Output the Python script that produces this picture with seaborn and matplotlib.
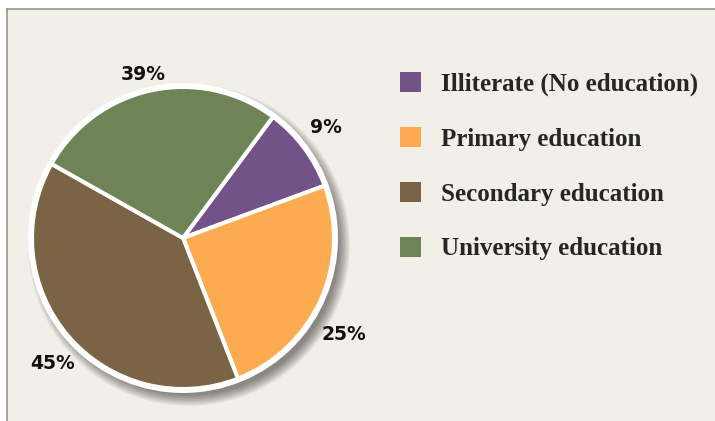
import numpy as np
import matplotlib
matplotlib.use('Agg')
import matplotlib.pyplot as plt
from matplotlib.patches import Patch, Circle
import seaborn as sns

# ======================
# DATA
# ======================
categories = ['Illiterate (No education)', 'Primary education',
              'Secondary education', 'University education']
# wedge sizes as drawn in the picture (share of the circle, %)
wedge_sizes = [9.2, 24.7, 39.1, 27.0]
# labels as printed on the chart
pct_labels = ['9%', '25%', '45%', '39%']
colors = ['#735387', '#fdab50', '#7a6445', '#6f8456']

# ======================
# STYLE
# ======================
sns.set_theme(style='white')
plt.rcParams['font.family'] = ['DejaVu Sans']
palette = sns.color_palette(colors)
bg_color = '#f2eee8'

fig = plt.figure(figsize=(7.15, 4.21), dpi=100)
fig.patch.set_facecolor('white')

# panel with a thin frame on the left and top
bg = fig.add_axes([7 / 715, 0, 708 / 715, 412 / 421])
bg.set_facecolor(bg_color)
bg.set_xticks([])
bg.set_yticks([])
for side in ['right', 'bottom']:
    bg.spines[side].set_visible(False)
for side in ['left', 'top']:
    bg.spines[side].set_color('#9c958d')
    bg.spines[side].set_linewidth(1.2)

# pie axes in pixel-like units
ax = fig.add_axes([0, 0, 1, 1])
ax.patch.set_alpha(0)
cx, cy, r = 183, 183, 151

# soft drop shadow
for i in range(12):
    ax.add_patch(Circle((cx + 6, cy - 7), r + 10 - i, color='black',
                        alpha=0.045, lw=0, zorder=0))
ax.add_patch(Circle((cx, cy), r + 4, color='white', lw=0, zorder=1))

wedges, texts = ax.pie(
    wedge_sizes, labels=pct_labels, colors=palette, startangle=53.4,
    counterclock=False, center=(cx, cy), radius=r, labeldistance=1.17,
    wedgeprops=dict(edgecolor='white', linewidth=2.9, zorder=2),
    textprops=dict(ha='center', va='center', fontsize=13.5,
                   fontweight='bold', color='#111111'))

# small hand nudges so the labels sit where the original puts them
nudges = [(2, 5), (0, -24), (3, -10), (-3, -9)]
for t, (dx, dy) in zip(texts, nudges):
    x, y = t.get_position()
    t.set_position((x + dx, y + dy))

ax.set_xlim(0, 715)
ax.set_ylim(0, 421)
ax.axis('off')

# legend
handles = [Patch(facecolor=c, edgecolor='none') for c in palette]
fig.legend(handles, categories, loc='upper left',
           bbox_to_anchor=(400 / 715, 1 - 72 / 421), frameon=False,
           borderpad=0, borderaxespad=0, handlelength=0.84,
           handleheight=0.84, handletextpad=0.8, labelspacing=1.25,
           prop=dict(family='Liberation Serif', weight='bold', size=18))

plt.savefig('out.png', dpi=100, facecolor=fig.get_facecolor())
